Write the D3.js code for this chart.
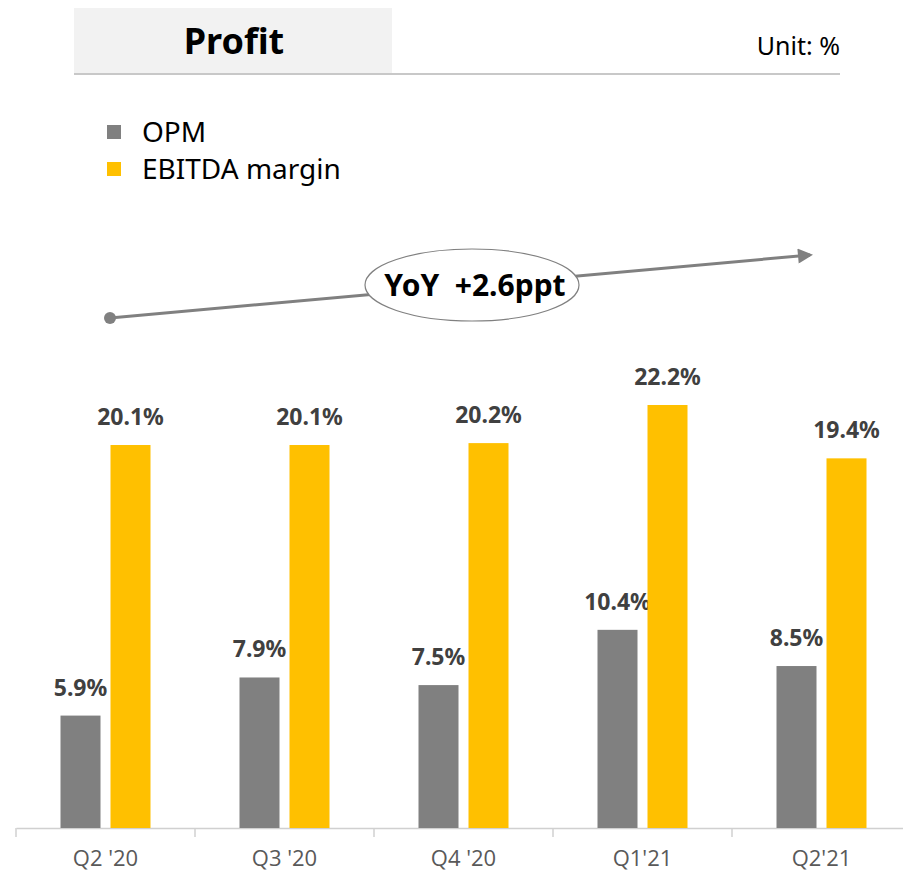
<!DOCTYPE html>
<html>
<head>
<meta charset="utf-8">
<script src="https://cdn.jsdelivr.net/npm/d3@7.9.0/dist/d3.min.js"></script>
<style>
  body { margin: 0; background: #fff; }
  svg { display: block; font-family: 'Noto Sans', 'Open Sans', sans-serif; }
</style>
</head>
<body>
<svg id="chart" width="903" height="875"></svg>
<script>
const quarters = ["Q2 '20", "Q3 '20", "Q4 '20", "Q1'21", "Q2'21"];
const opm = [5.9, 7.9, 7.5, 10.4, 8.5];
const ebitda = [20.1, 20.1, 20.2, 22.2, 19.4];
const seriesNames = ['OPM', 'EBITDA margin'];
const colors = ['#808080', '#FFC000'];

const svg = d3.select('#chart');

// header
svg.append('rect').attr('x', 74).attr('y', 8).attr('width', 318).attr('height', 65).attr('fill', '#f2f2f2');
svg.append('text').attr('x', 234).attr('y', 54).attr('text-anchor', 'middle')
  .attr('font-size', 36).attr('font-weight', 'bold').attr('fill', '#000').text('Profit');
svg.append('text').attr('x', 840).attr('y', 55).attr('text-anchor', 'end')
  .attr('font-size', 25).attr('fill', '#000').text('Unit: %');
svg.append('line').attr('x1', 74).attr('x2', 840).attr('y1', 74).attr('y2', 74)
  .attr('stroke', '#c8c8c8').attr('stroke-width', 2);

// legend
seriesNames.forEach((name, i) => {
  const y = 132 + i * 37;
  svg.append('rect').attr('x', 107).attr('y', y - 7).attr('width', 14).attr('height', 14).attr('fill', colors[i]);
  svg.append('text').attr('x', 142).attr('y', y + 10).attr('font-size', 28).attr('fill', '#000').text(name);
});

// scales
const x = d3.scaleBand().domain(quarters).range([16, 911]);
const y = d3.scaleLinear().domain([0, 22.2]).range([828, 405]);

// axis
const axis = svg.append('g').attr('transform', 'translate(0,828)')
  .call(d3.axisBottom(x).tickSize(0).tickPadding(22));
axis.select('.domain').attr('stroke', '#d0d0d0').attr('stroke-width', 1.5);
axis.selectAll('text').attr('font-size', 22).attr('fill', '#595959')
  .attr('font-family', "'Liberation Sans Narrow', 'Open Sans', sans-serif");
axis.selectAll('.sep').data(quarters).join('line').attr('class', 'sep')
  .attr('x1', d => x(d)).attr('x2', d => x(d)).attr('y1', 0).attr('y2', 9)
  .attr('stroke', '#d0d0d0').attr('stroke-width', 1.5);

// bars
const barW = 40, gap = 10;
const groups = [opm, ebitda];
groups.forEach((vals, si) => {
  const off = si === 0 ? -gap / 2 - barW : gap / 2;
  svg.append('g').selectAll('rect').data(vals).join('rect')
    .attr('x', (d, i) => x(quarters[i]) + x.bandwidth() / 2 + off)
    .attr('y', d => y(d))
    .attr('width', barW)
    .attr('height', d => y(0) - y(d))
    .attr('fill', colors[si]);
  svg.append('g').selectAll('text').data(vals).join('text')
    .attr('x', (d, i) => x(quarters[i]) + x.bandwidth() / 2 + off + barW / 2)
    .attr('y', d => y(d) - 20)
    .attr('text-anchor', 'middle')
    .attr('font-size', 23).attr('font-weight', 'bold').attr('fill', '#404040')
    .text(d => d.toFixed(1) + '%');
});

// YoY arrow
const defs = svg.append('defs');
defs.append('marker').attr('id', 'arrow').attr('viewBox', '0 0 10 10')
  .attr('refX', 8).attr('refY', 5).attr('markerWidth', 6).attr('markerHeight', 5)
  .attr('markerUnits', 'strokeWidth').attr('orient', 'auto')
  .append('path').attr('d', 'M0,0L10,5L0,10Z').attr('fill', '#808080');
svg.append('line').attr('x1', 110).attr('y1', 318).attr('x2', 810).attr('y2', 255)
  .attr('stroke', '#808080').attr('stroke-width', 3).attr('marker-end', 'url(#arrow)');
svg.append('circle').attr('cx', 110).attr('cy', 318).attr('r', 6).attr('fill', '#808080');
svg.append('ellipse').attr('cx', 472).attr('cy', 285).attr('rx', 107).attr('ry', 36)
  .attr('fill', '#fff').attr('stroke', '#808080').attr('stroke-width', 1.2);
svg.append('text').attr('x', 475).attr('y', 296).attr('text-anchor', 'middle')
  .attr('font-size', 30).attr('font-weight', 'bold').attr('fill', '#000')
  .attr('xml:space', 'preserve').style('white-space', 'pre').text('YoY  +2.6ppt');
</script>
</body>
</html>
